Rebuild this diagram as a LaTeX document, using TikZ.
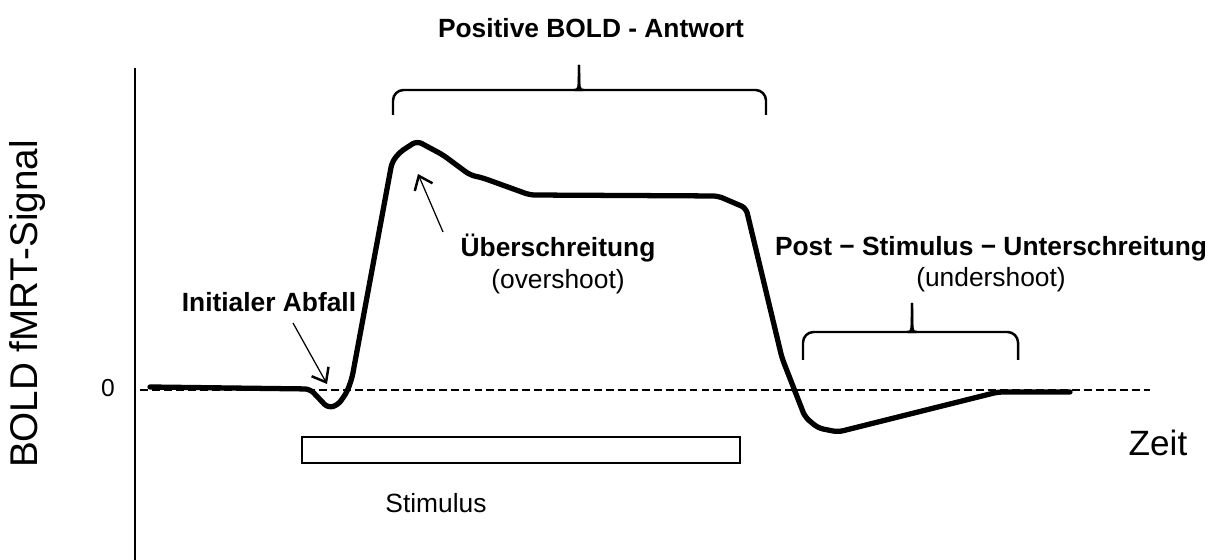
\documentclass[tikz,border=0pt]{standalone}
\usepackage{fontspec}
\setmainfont{Liberation Sans}
\usetikzlibrary{arrows.meta}

\begin{document}
\begin{tikzpicture}[x=0.02cm,y=0.02cm,
    signal/.style={line width=3pt,line join=round,line cap=round,rounded corners=3pt},
    klammer/.style={line width=1.4pt,rounded corners=6pt},
    zeiger/.style={-{Straight Barb[length=7pt,width=11pt,line width=1.4pt]},line width=0.7pt},
    lbl/.style={font=\fontsize{15}{18}\selectfont}]
    \useasboundingbox (0,0) rectangle (1222,560);
    % axis and baseline
    \draw [line width=1.1pt] (135,492) -- (135,0);
    \draw [dashed,line width=1.1pt,dash pattern=on 4.5pt off 2.3pt] (140,170) -- (1150,170);
    \node (null) at (108,172) {\fontsize{14}{16}\selectfont 0};
    \node (ylabel) [rotate=90] at (28,256) {\fontsize{22}{26}\selectfont BOLD fMRT-Signal};
    \node (zeit) at (1158,117) {\fontsize{20}{24}\selectfont Zeit};
    % stimulus
    \draw [line width=0.8pt] (302,97) rectangle (740,123);
    \node (stim) [lbl] at (436,57) {Stimulus};
    % signal
    \draw [signal] (150,173) -- (310,171) -- (328,152) -- (338,155) -- (347,168)
        -- (352,182) -- (392,398) -- (400,408) -- (417,419) -- (443,405)
        -- (470,385) -- (483,382) -- (530,365) -- (718,364) -- (746,352)
        -- (782,202) -- (805,143) -- (818,132) -- (838,128) -- (998,168) -- (1070,168);
    % labels
    \node (antwort) [lbl] at (591,532) {\bfseries Positive BOLD - Antwort};
    \draw [klammer] (393,445) |- (573,470) .. controls (579,470) .. (579,495);
    \draw [klammer] (766,445) |- (585,470) .. controls (579,470) .. (579,495);
    \node (ueber) [lbl,align=center] at (558,296) {\bfseries Überschreitung\\(overshoot)};
    \coordinate (ueberstart) at (443,328);
    \coordinate (uebertip) at (418,386);
    \draw [zeiger] (ueberstart) -- (uebertip);
    \node (abfall) [lbl] at (269,258) {\bfseries Initialer Abfall};
    \coordinate (abfallstart) at (293,237);
    \coordinate (abfalltip) at (327,176);
    \draw [zeiger] (abfallstart) -- (abfalltip);
    \node (post) [lbl,align=center] at (991,296) {\bfseries Post − Stimulus − Unterschreitung\\(undershoot)};
    \draw [klammer] (803,200) |- (906,228) .. controls (912,228) .. (912,257);
    \draw [klammer] (1018,200) |- (918,228) .. controls (912,228) .. (912,257);
\end{tikzpicture}
\end{document}
